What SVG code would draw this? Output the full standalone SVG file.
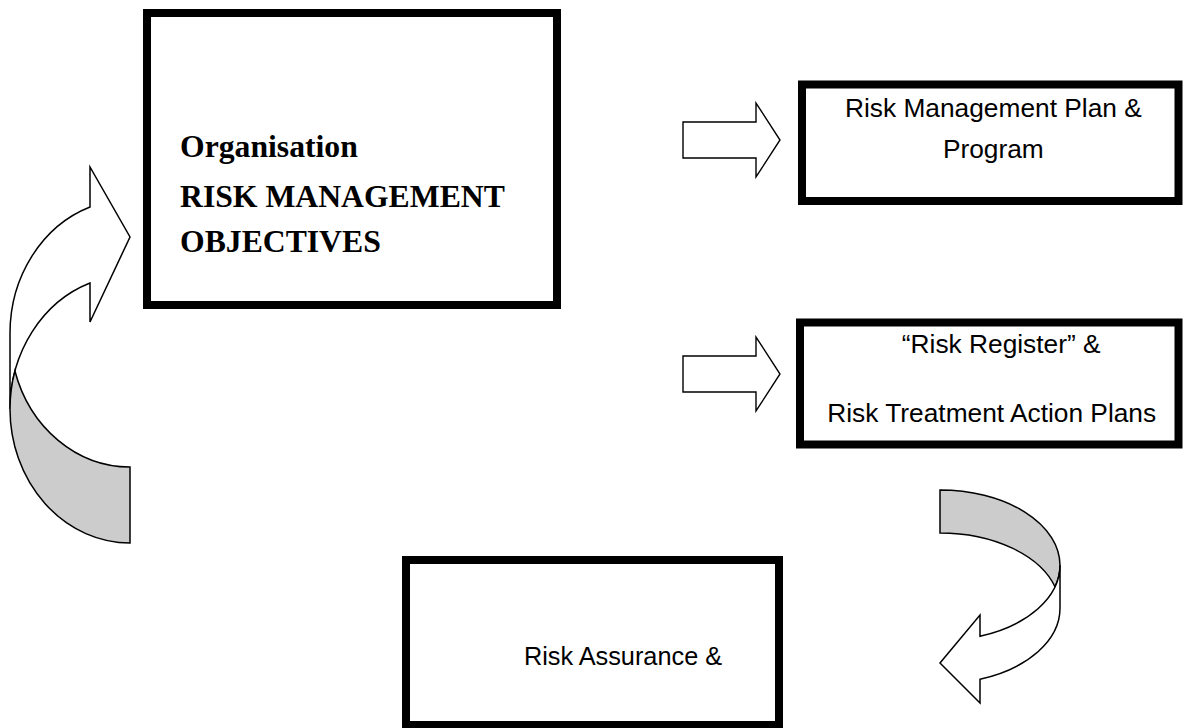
<svg xmlns="http://www.w3.org/2000/svg" width="1183" height="728" viewBox="0 0 1183 728">
<style>
.box{fill:#ffffff;stroke:#000000;stroke-width:8}
.blk{fill:#ffffff;stroke:#000000;stroke-width:1.4;stroke-linejoin:miter}
.front{fill:#ffffff;stroke:#000000;stroke-width:1.5;stroke-linejoin:miter}
.back{fill:#cccccc;stroke:#000000;stroke-width:1.5;stroke-linejoin:miter}
.title{font-family:"Liberation Serif","Times New Roman",serif;font-weight:bold;font-size:31.7px;fill:#000000}
.lbl{font-family:"Liberation Sans",Arial,sans-serif;font-size:26.3px;fill:#000000;text-anchor:middle}
</style>
<rect x="0" y="0" width="1183" height="728" fill="#ffffff"/>
<g id="connectors">
  <polygon class="blk" points="683,122 756,122 756,103 780,140 756,177 756,158 683,158"/>
  <polygon class="blk" points="683,356 756,356 756,337 780,374 756,411 756,392 683,392"/>
  <g id="loop-left">
    <path class="front" d="M10,333 A120,134 0 0 1 90,207 L90,167 L130,237 L90,322 L90,283 A120,134 0 0 0 10,409 Z"/>
    <path class="back" d="M130,543 A120,134 0 0 1 10,409 A120,134 0 0 1 14.9,371 A120,134 0 0 0 130,467 Z"/>
  </g>
  <g id="curve-right">
    <path class="back" d="M940,490 A120,75.3 0 0 1 1060,565.3 A120,75.3 0 0 1 1055,586.8 A120,75.3 0 0 0 940,533 Z"/>
    <path class="front" d="M1060,608.3 A120,75.3 0 0 1 980,679.3 L980,703 L940,663 L980,615 L980,636.3 A120,75.3 0 0 0 1060,565.3 Z"/>
  </g>
</g>
<g id="objectives">
  <rect class="box" x="147" y="13" width="410" height="292"/>
  <text class="title" x="180" y="157">Organisation</text>
  <text class="title" x="180" y="207">RISK MANAGEMENT</text>
  <text class="title" x="180" y="252">OBJECTIVES</text>
</g>
<g id="plan">
  <rect class="box" x="802" y="84.5" width="376.5" height="116.5"/>
  <text class="lbl" x="993.4" y="116.7">Risk Management Plan &amp;</text>
  <text class="lbl" x="993.3" y="158">Program</text>
</g>
<g id="register">
  <rect class="box" x="800" y="322.5" width="378.5" height="122"/>
  <text class="lbl" x="1001.2" y="353.3">“Risk Register” &amp;</text>
  <text class="lbl" x="991.7" y="421.7">Risk Treatment Action Plans</text>
</g>
<g id="assurance">
  <rect class="box" x="406" y="560" width="373" height="165"/>
  <text class="lbl" x="623" y="665" style="font-size:25.3px">Risk Assurance &amp;</text>
</g>
</svg>
